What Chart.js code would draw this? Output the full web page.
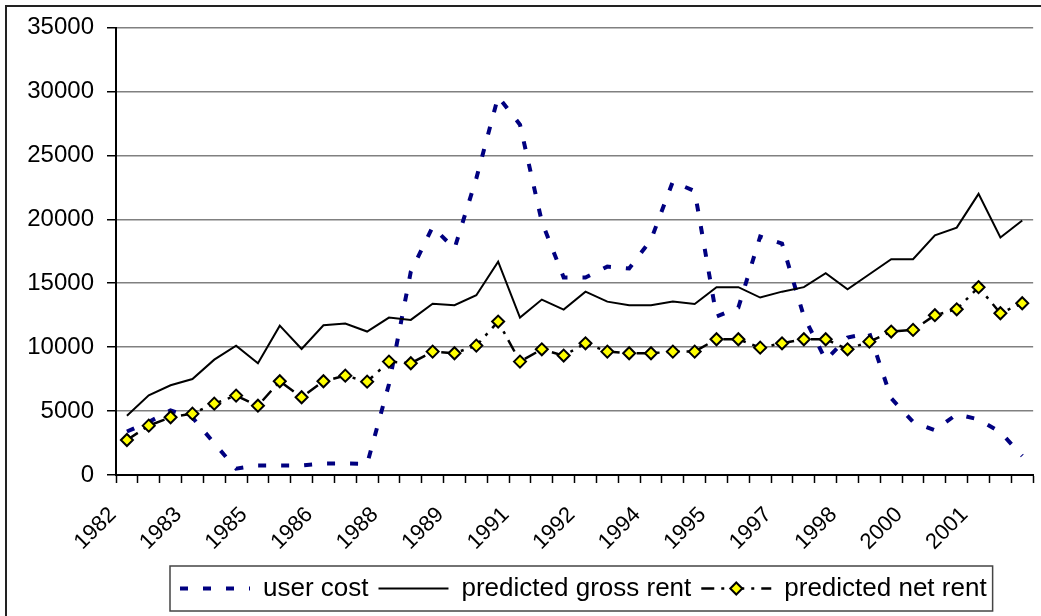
<!DOCTYPE html>
<html>
<head>
<meta charset="utf-8">
<title>user cost and predicted rent</title>
<script src="https://cdn.jsdelivr.net/npm/chart.js@4.4.0/dist/chart.umd.min.js"></script>
<style>
    html, body { margin: 0; padding: 0; background: #fff; overflow: hidden; }
    #chart { display: block; }
</style>
</head>
<body>
<canvas id="chart" width="1060" height="616"></canvas>
<script>
// half-year periods, 1982 to 2002
const periods = ['1982', '1982', '1983', '1983', '1984', '1984', '1985', '1985', '1986', '1986',
    '1987', '1987', '1988', '1988', '1989', '1989', '1990', '1990', '1991', '1991',
    '1992', '1992', '1993', '1993', '1994', '1994', '1995', '1995', '1996', '1996',
    '1997', '1997', '1998', '1998', '1999', '1999', '2000', '2000', '2001', '2001',
    '2002', '2002'];
const tickYears = ['1982', '1983', '1985', '1986', '1988', '1989', '1991', '1992', '1994', '1995',
    '1997', '1998', '2000', '2001'];

const userCost = [3400, 4150, 5050, 4500, 2480, 500, 750, 750, 750, 900,
    900, 870, 7100, 15900, 19400, 17700, 23200, 29600, 27400, 19800,
    15450, 15450, 16300, 16150, 18400, 22950, 22200, 12400, 13100, 18650,
    18100, 12400, 9000, 10750, 11100, 6000, 4150, 3500, 4750, 4350,
    3350, 1500];
const grossRent = [4640, 6235, 7020, 7510, 9020, 10120, 8740, 11680, 9860, 11710,
    11850, 11220, 12310, 12130, 13400, 13280, 14060, 16690, 12310, 13720,
    12940, 14340, 13560, 13280, 13280, 13560, 13380, 14690, 14690, 13880,
    14340, 14690, 15780, 14530, 15700, 16880, 16880, 18750, 19350, 21990,
    18570, 19900];
const netRent = [2740, 3860, 4515, 4800, 5580, 6210, 5420, 7330, 6080, 7330,
    7770, 7300, 8870, 8740, 9650, 9520, 10120, 12000, 8870, 9830,
    9340, 10300, 9650, 9520, 9520, 9650, 9650, 10620, 10620, 9960,
    10300, 10620, 10620, 9830, 10430, 11220, 11350, 12500, 12960, 14690,
    12650, 13430];

const yTicks = [0, 5000, 10000, 15000, 20000, 25000, 30000, 35000];

const FONT = "'Liberation Sans', Arial, sans-serif";
const SAMPLE_W = 70;

document.addEventListener("DOMContentLoaded", function () {
    const canvas = document.getElementById("chart");

    // outer chart frame (only top and left edges are in view)
    const framePlugin = {
        id: 'frame',
        beforeDraw(chart) {
            const ctx = chart.ctx;
            ctx.save();
            ctx.fillStyle = '#fff';
            ctx.fillRect(0, 0, chart.width, chart.height);
            ctx.strokeStyle = '#222';
            ctx.lineWidth = 2;
            ctx.beginPath();
            ctx.moveTo(6, chart.height + 5);
            ctx.lineTo(6, 6);
            ctx.lineTo(chart.width + 5, 6);
            ctx.stroke();
            ctx.restore();
        }
    };

    // move the legend row, then box it and put the marker on the net rent sample
    const legendBoxPlugin = {
        id: 'legendBox',
        afterLayout(chart) {
            const lg = chart.legend;
            const pad = lg.options.labels.padding;
            const start = (lg.left + pad + lg.right - lg.lineWidths[0]) / 2;
            const d = 180 - start;
            lg.left += d;
            lg.right += d;
        },
        afterDraw(chart) {
            const boxes = chart.legend.legendHitBoxes;
            if (!boxes || !boxes.length) return;
            const first = boxes[0];
            const last = boxes[boxes.length - 1];
            const cy = first.top + first.height / 2;
            const ctx = chart.ctx;
            ctx.save();
            ctx.strokeStyle = '#444';
            ctx.lineWidth = 1.5;
            const x0 = first.left - 10;
            const x1 = last.left + last.width + 6;
            ctx.strokeRect(x0, cy - 22.5, x1 - x0, 45);

            const hb = boxes[2];
            const mx = hb.left + SAMPLE_W / 2;
            const r = 6;
            ctx.beginPath();
            ctx.moveTo(mx, cy - r);
            ctx.lineTo(mx + r, cy);
            ctx.lineTo(mx, cy + r);
            ctx.lineTo(mx - r, cy);
            ctx.closePath();
            ctx.fillStyle = '#ffff00';
            ctx.fill();
            ctx.strokeStyle = '#000';
            ctx.lineWidth = 2;
            ctx.stroke();
            ctx.restore();
        }
    };

    // legend samples take the dataset's line style, not the point style
    function legendLabels(chart) {
        const items = Chart.defaults.plugins.legend.labels.generateLabels(chart);
        items.forEach(item => {
            const ds = chart.data.datasets[item.datasetIndex];
            item.lineDash = ds.borderDash || [];
            item.lineWidth = ds.borderWidth;
            item.strokeStyle = ds.borderColor;
            item.pointStyle = 'line';
        });
        return items;
    }

    const config = {
        type: 'line',
        data: {
            labels: periods,
            datasets: [
                {
                    label: 'user cost',
                    data: userCost,
                    borderColor: '#000080',
                    backgroundColor: '#000080',
                    borderWidth: 4,
                    borderDash: [8, 15],
                    pointRadius: 0,
                    tension: 0,
                    fill: false,
                    order: 3
                },
                {
                    label: 'predicted gross rent',
                    data: grossRent,
                    borderColor: '#000',
                    backgroundColor: '#000',
                    borderWidth: 2,
                    pointRadius: 0,
                    tension: 0,
                    fill: false,
                    order: 2
                },
                {
                    label: 'predicted net rent',
                    data: netRent,
                    borderColor: '#000',
                    backgroundColor: '#ffff00',
                    borderWidth: 2.5,
                    borderDash: [13, 7, 3, 7],
                    pointStyle: 'rectRot',
                    pointRadius: 6,
                    pointBackgroundColor: '#ffff00',
                    pointBorderColor: '#000',
                    pointBorderWidth: 2,
                    tension: 0,
                    fill: false,
                    order: 1
                }
            ]
        },
        options: {
            responsive: false,
            animation: false,
            devicePixelRatio: 1,
            layout: {
                padding: { left: 0, right: 8, top: 27.5, bottom: 4.5 }
            },
            plugins: {
                tooltip: { enabled: false },
                legend: {
                    position: 'bottom',
                    labels: {
                        usePointStyle: true,
                        pointStyle: 'line',
                        pointStyleWidth: SAMPLE_W,
                        padding: 10,
                        color: '#000',
                        font: { family: FONT, size: 26 },
                        generateLabels: legendLabels,
                        sort: (a, b) => a.datasetIndex - b.datasetIndex
                    }
                }
            },
            scales: {
                x: {
                    offset: true,
                    afterFit: scale => { scale.height = 90.5; },
                    ticks: {
                        autoSkip: false,
                        maxRotation: 45,
                        minRotation: 45,
                        padding: 19,
                        labelOffset: -14,
                        color: '#000',
                        font: { family: FONT, size: 22 },
                        callback: function (value, index) {
                            return index % 3 === 0 ? tickYears[index / 3] : '';
                        }
                    },
                    grid: {
                        offset: true,
                        drawOnChartArea: false,
                        tickLength: 8,
                        tickColor: '#000',
                        tickWidth: 1.5
                    },
                    border: { color: '#000', width: 2 }
                },
                y: {
                    min: 0,
                    max: 35000,
                    afterBuildTicks: axis => { axis.ticks = yTicks.map(v => ({ value: v })); },
                    afterFit: scale => { scale.width = 116; },
                    ticks: {
                        color: '#000',
                        padding: 13,
                        font: { family: FONT, size: 24 },
                        callback: value => String(value)
                    },
                    grid: {
                        color: '#808080',
                        lineWidth: 1.5,
                        tickColor: '#000',
                        tickLength: 9,
                        tickWidth: 1.5
                    },
                    border: { color: '#000', width: 2 }
                }
            }
        },
        plugins: [framePlugin, legendBoxPlugin]
    };

    new Chart(canvas, config);
});
</script>
</body>
</html>
